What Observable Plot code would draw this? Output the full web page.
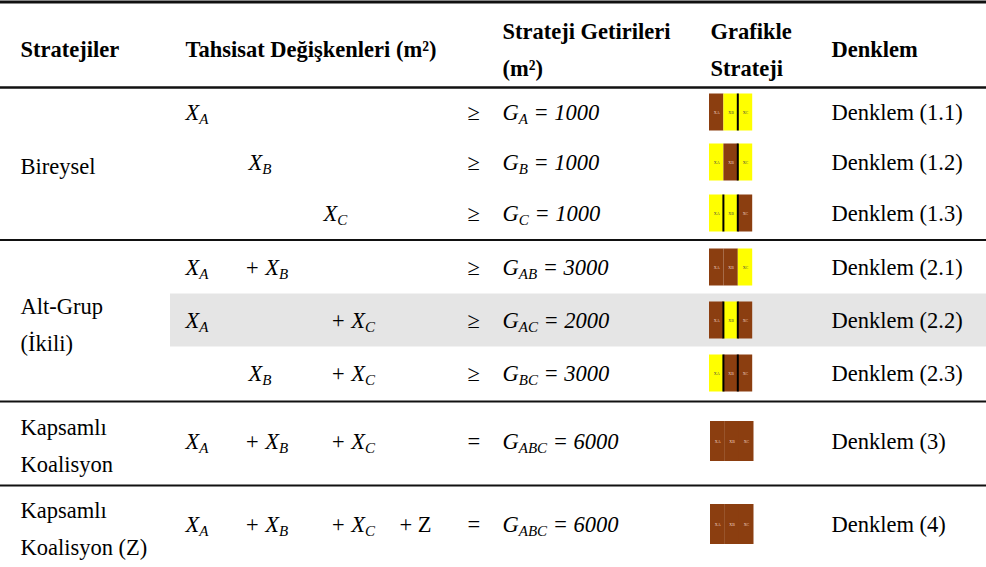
<!DOCTYPE html>
<html>
<head>
<meta charset="utf-8">
<script src="https://cdn.jsdelivr.net/npm/d3@7"></script>
<script src="https://cdn.jsdelivr.net/npm/@observablehq/plot@0.6"></script>
<style>
  html, body { margin: 0; background: #fff; overflow: hidden; }
  svg text, svg tspan { font-family: "Liberation Serif", serif !important; }
</style>
</head>
<body>
<div id="chart"></div>
<script>
// ---------------- data ----------------
const headers = ["Stratejiler", "Tahsisat Değişkenleri (m²)", "Strateji Getirileri\n(m²)", "Grafikle\nStrateji", "Denklem"];
const groups = ["Bireysel", "Alt-Grup\n(İkili)", "Kapsamlı\nKoalisyon", "Kapsamlı\nKoalisyon (Z)"];
const groupRows = [[0, 2], [3, 5], [6, 6], [7, 7]];
const rowVars = [["A"], ["B"], ["C"], ["A", "B"], ["A", "C"], ["B", "C"], ["A", "B", "C"], ["A", "B", "C", "Z"]];
const relations = ["≥", "≥", "≥", "≥", "≥", "≥", "=", "="];
const payoffSubs = ["A", "B", "C", "AB", "AC", "BC", "ABC", "ABC"];
const payoffs = [1000, 1000, 1000, 3000, 2000, 3000, 6000, 6000];
const equations = ["Denklem (1.1)", "Denklem (1.2)", "Denklem (1.3)", "Denklem (2.1)", "Denklem (2.2)", "Denklem (2.3)", "Denklem (3)", "Denklem (4)"];
const iconSegments = ["BYY", "YBY", "YYB", "BBY", "BYB", "YBB", "BBB", "BBB"]; // B = brown, Y = yellow
const iconDividers = [[2], [2], [1, 2], [], [1, 2], [1, 2], [], []];
const iconLabels = ["XA", "XB", "XC"];
const highlightedRow = 4;

// ---------------- layout ----------------
const W = 986, H = 567;
const FONT = "Liberation Serif";
const FS = 22.5;
const colX = {group: 20, rel: 467, pay: 502, icon: 709, eq: 831};
const headerX = [20, 185, 502, 710, 831];
const termX = {A: {solo: 185}, B: {solo: 248, plus: 244}, C: {solo: 323, plus: 330}, Z: {plus: 399}};
const segW = 14.4;
const BROWN = "#8B3E10", YELLOW = "#FFFF00";

// row units -> pixel (piecewise): -2 top rule, -1 header, -0.5 header rule, 0..7 body rows
const rowY = d3.scaleLinear()
  .domain([-2, -1, -0.5, 0, 1, 2, 2.5, 3, 4, 5, 5.5, 6, 6.5, 7, 8])
  .range([1.5, 45, 87, 112, 162, 213, 239.5, 267, 320, 373, 401, 441, 485, 524, 607]);

// ---------------- derived tables ----------------
const rows = equations.map((eq, i) => ({
  row: i, eq, rel: relations[i],
  pay: `G_{${payoffSubs[i]}} = ${payoffs[i]}`
}));
const terms = rowVars.flatMap((vars, i) => vars.map((v, j) => ({
  row: i, v,
  text: v === "Z" ? "+ Z" : (j === 0 ? `X_{${v}}` : `+ X_{${v}}`),
  x: j === 0 ? termX[v].solo : termX[v].plus
})));
const groupData = groups.map((g, k) => ({label: g, row: (groupRows[k][0] + groupRows[k][1]) / 2}));
const headerData = headers.map((h, k) => ({label: h, x: headerX[k], row: -1}));
const segments = iconSegments.flatMap((s, i) => [...s].map((c, k) => ({
  row: i, k, color: c === "B" ? BROWN : YELLOW,
  label: iconLabels[k], big: i >= 6
})));
const dividers = iconDividers.flatMap((ds, i) => ds.map(k => ({row: i, k})));
const rules = [
  {row: -2, w: 3}, {row: -0.5, w: 2.4}, {row: 2.5, w: 2}, {row: 5.5, w: 2}, {row: 6.5, w: 2}
];

const Y = d => rowY(d.row);
const segX1 = d => colX.icon + d.k * segW + (d.big ? 1 : 0);
const txt = {textAnchor: "start", fontSize: FS, fontFamily: FONT};

const plot = Plot.plot({
  width: W, height: H, margin: 0,
  x: {domain: [0, W], range: [0, W], axis: null},
  y: {domain: [0, H], range: [0, H], axis: null},
  marks: [
    Plot.rect([highlightedRow], {x1: 170, x2: W, y1: d => rowY(d - 0.5), y2: d => rowY(d + 0.5), fill: "#e5e5e5"}),
    Plot.ruleY(rules, {y: Y, x1: 0, x2: W, stroke: "#111", strokeWidth: "w"}),
    Plot.text(headerData, {...txt, x: "x", y: Y, text: "label", fontWeight: "bold", lineHeight: 1.65}),
    Plot.text(groupData, {...txt, x: colX.group, y: Y, text: "label", lineHeight: 1.65}),
    Plot.text(terms.filter(d => d.v !== "Z"), {...txt, x: "x", y: Y, text: "text", fontStyle: "italic"}),
    Plot.text(terms.filter(d => d.v === "Z"), {...txt, x: "x", y: Y, text: "text"}),
    Plot.text(rows, {...txt, x: colX.rel, y: Y, text: "rel"}),
    Plot.text(rows, {...txt, x: colX.pay, y: Y, text: "pay", fontStyle: "italic"}),
    Plot.rect(segments.filter(d => !d.big), {x1: segX1, x2: d => segX1(d) + segW, y1: Y, y2: Y, fill: "color", insetTop: -18.5, insetBottom: -18.5}),
    Plot.rect(segments.filter(d => d.big), {x1: segX1, x2: d => segX1(d) + segW + 0.3, y1: Y, y2: Y, fill: "color", insetTop: -20, insetBottom: -20}),
    Plot.rect(dividers, {x1: d => colX.icon + d.k * segW, x2: d => colX.icon + d.k * segW, y1: Y, y2: Y, fill: "#000", insetTop: -18.5, insetBottom: -18.5, insetLeft: -1, insetRight: -1}),
    Plot.text(segments, {x: d => segX1(d) + segW / 2, y: Y, text: "label", fontSize: 4, fontFamily: FONT, fill: d => d.color === BROWN ? "#f0d0c0" : "#444"}),
    Plot.text(rows, {...txt, x: colX.eq, y: Y, text: "eq"})
  ]
});

const svg = d3.select(plot).attr("font-family", FONT);

// turn "_{...}" markup into real subscript tspans
svg.selectAll("text").each(function () {
  const s = this.textContent;
  if (!s.includes("_{") || this.querySelector("tspan")) return;
  const t = d3.select(this);
  t.text(null);
  const re = /_\{([^}]*)\}/g;
  let last = 0, m, shifted = false;
  const shift = 4;
  while ((m = re.exec(s))) {
    if (m.index > last) {
      const ts = t.append("tspan").text(s.slice(last, m.index));
      if (shifted) { ts.attr("dy", -shift); shifted = false; }
    }
    t.append("tspan").attr("font-size", 15).attr("dy", shift).text(m[1]);
    shifted = true;
    last = re.lastIndex;
  }
  if (last < s.length) {
    const ts = t.append("tspan").text(s.slice(last));
    if (shifted) ts.attr("dy", -shift);
  }
});
svg.selectAll("text, tspan").attr("font-family", FONT).style("font-family", "'Liberation Serif'");

document.getElementById("chart").append(plot);
</script>
</body>
</html>
